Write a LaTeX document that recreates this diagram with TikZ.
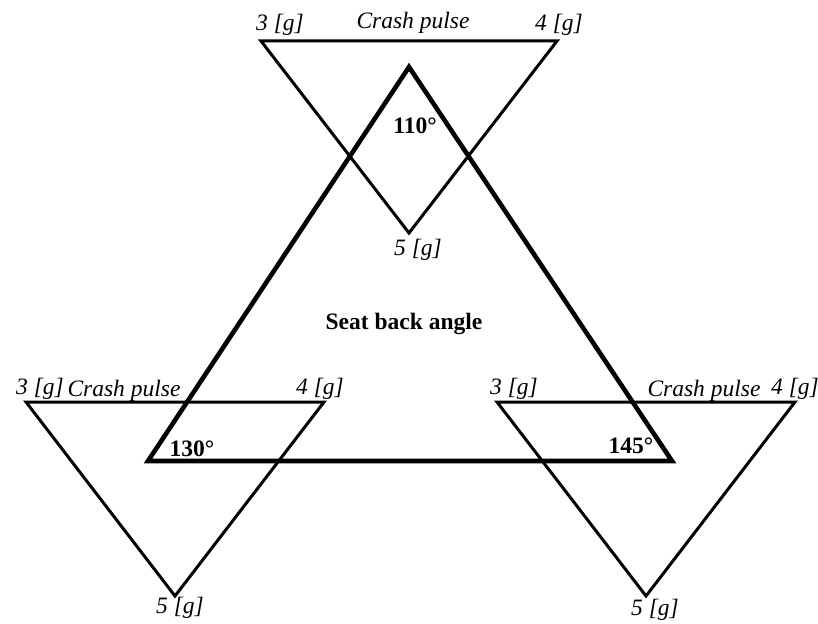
\documentclass[tikz,border=0pt]{standalone}
\usepackage{fontspec}
\setmainfont{Liberation Serif}
\begin{document}
\begin{tikzpicture}[x=1pt,y=-1pt,
  thinline/.style={line width=3pt,line join=miter},
  thickline/.style={line width=4.6pt,line join=miter},
  lab/.style={font=\fontsize{23.5}{26}\selectfont\itshape,anchor=base,inner sep=0pt},
  blab/.style={font=\fontsize{23.5}{26}\selectfont\bfseries,anchor=base,inner sep=0pt}]
\useasboundingbox (0,0) rectangle (818,623);
% big triangle
\coordinate (A) at (409,67);
\coordinate (B) at (148,461);
\coordinate (C) at (672,461);
% top inverted triangle
\coordinate (T1) at (261,41);
\coordinate (T2) at (557,41);
\coordinate (T3) at (409,233);
% bottom-left inverted
\coordinate (L1) at (26,402);
\coordinate (L2) at (324,402);
\coordinate (L3) at (175,596);
% bottom-right inverted
\coordinate (R1) at (497,402);
\coordinate (R2) at (795,402);
\coordinate (R3) at (646,596);
\draw[thinline] (T1) -- (T2) -- (T3) -- cycle;
\draw[thinline] (L1) -- (L2) -- (L3) -- cycle;
\draw[thinline] (R1) -- (R2) -- (R3) -- cycle;
\draw[thickline] (A) -- (B) -- (C) -- cycle;
% labels top
\node[lab] (t3) at (280,31) {3 [g]};
\node[lab] (tc) at (413,29) {Crash pulse};
\node[lab] (t4) at (559,31) {4 [g]};
\node[lab] (t5) at (418,255) {5 [g]};
\node[blab] (a110) at (415,133) {110°};
\node[blab] (sba) at (404,329) {Seat back angle};
% bottom-left
\node[lab] (l3) at (40,394) {3 [g]};
\node[lab] (lc) at (124,396) {Crash pulse};
\node[lab] (l4) at (320,394) {4 [g]};
\node[lab] (l5) at (180,613) {5 [g]};
\node[blab] (a130) at (192,456) {130°};
% bottom-right
\node[lab] (r3) at (514,394) {3 [g]};
\node[lab] (rc) at (704,396) {Crash pulse};
\node[lab] (r4) at (795,394) {4 [g]};
\node[lab] (r5) at (655,615) {5 [g]};
\node[blab] (a145) at (631,453) {145°};
\end{tikzpicture}
\end{document}
